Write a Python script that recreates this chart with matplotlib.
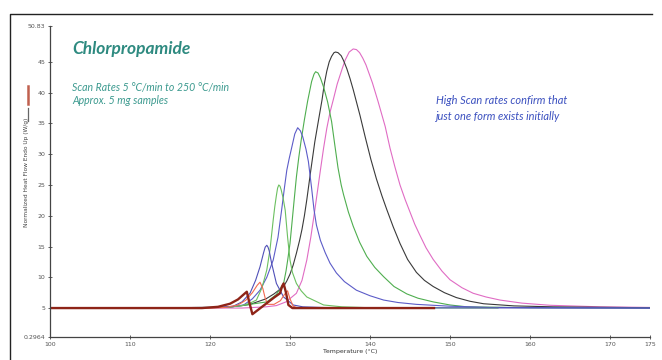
import matplotlib
matplotlib.use('Agg')
import matplotlib.pyplot as plt
from matplotlib.lines import Line2D

# Curves (temperature in degC, normalized heat flow)
pink_t = [100, 124, 127, 128.3, 129.5, 130.8, 131.5, 132.1, 132.6, 133.1, 133.8, 134.2, 134.6,
          135.0, 135.4, 135.9, 136.5, 136.9, 137.4, 137.9, 138.3, 138.7, 139.1, 139.5, 140.3,
          141.0, 141.9, 142.5, 143.1, 143.75, 144.4, 145, 145.6, 146.25, 147, 147.9, 149,
          150, 151.5, 152.9, 154.5, 156.25, 159, 162.5, 168.75, 175]
pink_v = [5.0, 5.0, 5.2, 5.4, 6.0, 7.4, 9.5, 12.8, 16.5, 20.9, 27.4, 31.0, 34.2,
          36.8, 38.8, 41.4, 43.8, 45.3, 46.6, 47.1, 47.0, 46.5, 45.6, 44.5, 41.6,
          38.6, 34.5, 31.0, 28.0, 25.0, 22.6, 20.6, 18.6, 16.8, 14.8, 12.9, 11.0,
          9.6, 8.3, 7.4, 6.8, 6.3, 5.8, 5.45, 5.2, 5.1]

black_t = [100, 122, 124, 125, 127, 128, 129.2, 129.6, 130, 130.4, 130.8, 131.2, 131.5, 131.8,
           132.1, 132.6, 133.1, 133.6, 134.0, 134.3, 134.6, 134.9, 135.2, 135.5, 135.7, 136.0,
           136.4, 136.7, 137.1, 137.5, 137.9, 138.75, 139.4, 140.1, 140.8, 141.5, 142.1, 142.9,
           143.75, 144.7, 145.8, 146.8, 147.9, 149.3, 150.8, 152.5, 154.2, 158, 162.9, 175]
black_v = [5.0, 5.1, 5.4, 5.6, 6.5, 7.3, 8.5, 9.4, 10.5, 12.0, 13.9, 16.0, 17.8, 20.0,
           22.6, 27.4, 32.0, 35.8, 38.8, 41.5, 43.5, 45.0, 45.9, 46.5, 46.6, 46.5,
           46.0, 45.2, 43.9, 42.3, 40.5, 36.3, 32.8, 29.2, 26.0, 23.2, 21.0, 18.2,
           15.5, 12.9, 10.8, 9.5, 8.5, 7.5, 6.7, 6.1, 5.7, 5.35, 5.2, 5.05]

green_t = [100, 122, 124, 125.5, 127.1, 128.3, 129.2, 129.5, 129.7, 130.0, 130.2, 130.5, 130.8,
           131.1, 131.4, 131.8, 132.2, 132.7, 133.0, 133.2, 133.5, 133.8, 134.2, 134.7, 135.2,
           135.6, 136.0, 136.4, 136.7, 137.3, 137.9, 138.7, 139.6, 140.6, 141.7, 143, 144.6,
           146, 147.9, 150, 152.1, 160, 175]
green_v = [5.0, 5.1, 5.4, 5.7, 6.0, 7.2, 9.0, 11.0, 12.7, 15.5, 18.2, 22.3, 26.3,
           29.5, 32.3, 35.6, 38.6, 41.8, 43.0, 43.4, 43.2, 42.4, 40.9, 38.5, 35.3,
           31.5, 27.8, 25.0, 23.4, 20.6, 18.3, 15.7, 13.4, 11.6, 10.1, 8.5, 7.3,
           6.6, 6.0, 5.5, 5.2, 5.05, 5.0]

blue_t = [100, 122, 124.2, 125.3, 126.25, 127.1, 127.9, 128.5, 128.95, 129.3, 129.6, 129.9,
          130.2, 130.6, 130.96, 131.3, 131.6, 132.0, 132.3, 132.7, 133.0, 133.3, 133.8, 134.4,
          135.0, 135.8, 136.8, 138.3, 140, 141.7, 143.5, 145.8, 150, 155, 175]
blue_v = [5.0, 5.1, 5.5, 6.5, 7.9, 10.0, 12.8, 16.5, 20.9, 24.5, 27.4, 29.3,
          31.0, 33.3, 34.3, 33.8, 32.8, 30.8, 28.8, 24.5, 21.0, 18.5, 16.0, 14.0,
          12.3, 10.7, 9.3, 7.9, 7.0, 6.3, 5.9, 5.6, 5.3, 5.1, 5.0]

sgreen_t = [100, 122, 124, 125, 125.8, 126.5, 127.1, 127.5, 127.9, 128.1, 128.3, 128.45, 128.6,
            128.75, 128.9, 129.15, 129.4, 129.7, 130.0, 130.3, 130.8, 131.4, 132.1, 134.2,
            136.5, 140, 156]
sgreen_v = [5.0, 5.1, 5.4, 5.8, 6.3, 8.3, 11.2, 14.5, 19.3, 21.5, 23.3, 24.5, 25.0,
            24.8, 24.2, 22.8, 20.9, 16.5, 12.8, 10.8, 9.0, 7.8, 6.8, 5.5,
            5.2, 5.05, 5.0]

sblue_t = [100, 121, 122.9, 124, 125, 125.7, 126.25, 126.7, 126.9, 127.1, 127.25, 127.4, 127.7,
           128.3, 129.2, 130.4, 131.6, 135, 175]
sblue_v = [5.0, 5.1, 5.3, 6.0, 7.4, 9.5, 11.7, 14.0, 14.9, 15.2, 14.9, 14.3, 12.3,
           9.0, 6.8, 5.5, 5.2, 5.05, 5.0]

salmon_t = [100, 120, 122, 123.5, 124.5, 125.3, 125.9, 126.25, 126.6, 126.9, 127.2, 128, 128.8,
            129.3, 129.7, 130.0, 130.4, 131, 148]
salmon_v = [5.0, 5.0, 5.1, 5.5, 6.3, 7.5, 8.7, 9.2, 8.2, 6.6, 5.6, 5.6, 6.2,
            7.2, 7.8, 6.5, 5.3, 5.0, 5.0]

brown_t = [100, 119, 121, 122.5, 123.5, 124.2, 124.6, 124.9, 125.3, 126, 127, 128, 128.75,
           129.0, 129.2, 129.5, 129.8, 130.3, 148]
brown_v = [5.0, 5.0, 5.2, 5.7, 6.4, 7.2, 7.65, 6.0, 4.0, 4.7, 5.7, 6.7, 7.4,
           8.5, 9.0, 7.5, 5.5, 5.0, 5.0]

xticks = [100, 110, 120, 130, 140, 150, 160, 170, 175]
yticks = [0.2964, 5, 10, 15, 20, 25, 30, 35, 40, 45, 50.83]
ytick_labels = ['0.2964', '5', '10', '15', '20', '25', '30', '35', '40', '45', '50.83']

fig = plt.figure(figsize=(6.62, 3.6), dpi=100)
ax = fig.add_axes([50 / 662, 23 / 360, 600 / 662, 311 / 360])

ax.plot(pink_t, pink_v, color='#e06cc4', lw=0.8)
ax.plot(black_t, black_v, color='#3a3a3a', lw=0.8)
ax.plot(green_t, green_v, color='#4fae4f', lw=0.8)
ax.plot(blue_t, blue_v, color='#5c5cc8', lw=0.8)
ax.plot(sgreen_t, sgreen_v, color='#6cc060', lw=0.8)
ax.plot(sblue_t, sblue_v, color='#5050b8', lw=0.8)
ax.plot(salmon_t, salmon_v, color='#f26a4f', lw=0.8)
ax.plot(brown_t, brown_v, color='#8e2418', lw=1.7)

ax.set_xlim(100, 175)
ax.set_ylim(0.2964, 50.83)
ax.set_xticks(xticks)
ax.set_xticklabels([str(t) for t in xticks])
ax.set_yticks(yticks)
ax.set_yticklabels(ytick_labels)
for s in ('top', 'right'):
    ax.spines[s].set_visible(False)
for s in ('left', 'bottom'):
    ax.spines[s].set_color('#444444')
    ax.spines[s].set_linewidth(0.9)
ax.tick_params(direction='inout', length=3, width=0.6, labelsize=4.5,
               labelcolor='#555555', color='#444444', pad=2)

ax.set_xlabel('Temperature (°C)', fontsize=4.5, color='#333333', labelpad=1.5)
ax.set_ylabel('Normalized Heat Flow Endo Up (W/g)', fontsize=4.2, color='#444444')
ax.yaxis.set_label_coords(-0.035, 0.53)

# little legend strokes beside the y label
fig.add_artist(Line2D([28 / 662, 28 / 662], [1 - 86 / 360, 1 - 104 / 360],
                      color='#c0604e', lw=1.8))
fig.add_artist(Line2D([28 / 662, 28 / 662], [1 - 108 / 360, 1 - 121 / 360],
                      color='#666666', lw=0.9))

fig.text(72 / 662, 1 - 49 / 360, 'Chlorpropamide', family='Lato', style='italic',
         weight='bold', fontsize=12.5, color='#2e8a80', va='center')
fig.text(72 / 662, 1 - 87 / 360, 'Scan Rates 5 °C/min to 250 °C/min', family='Lato',
         style='italic', fontsize=7.6, color='#3c9a8f', va='center')
fig.text(72 / 662, 1 - 101 / 360, 'Approx. 5 mg samples', family='Lato',
         style='italic', fontsize=7.6, color='#3c9a8f', va='center')
fig.text(436 / 662, 1 - 101 / 360, 'High Scan rates confirm that', family='Lato',
         style='italic', fontsize=7.9, color='#3a4fbf', va='center')
fig.text(436 / 662, 1 - 117 / 360, 'just one form exists initially', family='Lato',
         style='italic', fontsize=7.9, color='#3a4fbf', va='center')

# outer frame (left and top edges of the slide box)
fig.add_artist(Line2D([10 / 662, 10 / 662, 652 / 662], [0, 1 - 14 / 360, 1 - 14 / 360],
                      color='#222222', lw=1.0))

plt.savefig('out.png', dpi=100)
